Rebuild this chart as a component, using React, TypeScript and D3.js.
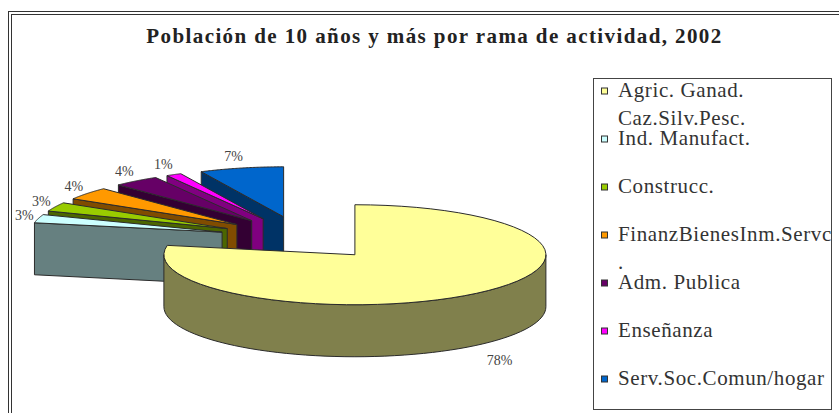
import * as d3 from "d3";

const categories = [
  "Agric. Ganad. Caz.Silv.Pesc.",
  "Ind. Manufact.",
  "Construcc.",
  "FinanzBienesInm.Servc.",
  "Adm. Publica",
  "Enseñanza",
  "Serv.Soc.Comun/hogar",
];
const legendLines = [
  ["Agric. Ganad.", "Caz.Silv.Pesc."],
  ["Ind. Manufact."],
  ["Construcc."],
  ["FinanzBienesInm.Servc", "."],
  ["Adm. Publica"],
  ["Enseñanza"],
  ["Serv.Soc.Comun/hogar"],
];
const shares = [78, 2.7, 2.9, 4.1, 3.9, 1.3, 7.1];
const topColors = ["#FFFF99", "#CCFFFF", "#99CC00", "#FF9900", "#660066", "#FF00FF", "#0066CC"];
const sideColors = ["#80804C", "#668080", "#4C6600", "#804C00", "#330033", "#800080", "#003366"];

const W = 839, H = 413;
const CX = 302, CY = 238;
const RX = 191, RY = 50, DEPTH = 52, EXPLODE = 83;

type Pt = [number, number];

const line = d3.line<Pt>();
const pieGen = d3.pie<number>().sort(null).value(d => d);

// flattened disc: angle 0 at 12 o'clock, clockwise
const onRim = (a: number, c: Pt, dy = 0): Pt => [c[0] + RX * Math.sin(a), c[1] - RY * Math.cos(a) + dy];

const rimPts = (a0: number, a1: number, c: Pt, dy = 0): Pt[] =>
  d3.range(0, 61).map(i => onRim(a0 + ((a1 - a0) * i) / 60, c, dy));

function Slice({ arc, i }: { arc: d3.PieArcDatum<number>; i: number }) {
  const mid = (arc.startAngle + arc.endAngle) / 2;
  const c: Pt = [
    CX + EXPLODE * Math.sin(mid),
    CY - (EXPLODE * RY * Math.cos(mid)) / RX,
  ];
  const top: Pt[] = [c, ...rimPts(arc.startAngle, arc.endAngle, c)];

  // front wall: only the part of the rim between 3 and 9 o'clock shows
  const from = Math.max(arc.startAngle, Math.PI / 2);
  const to = Math.min(arc.endAngle, (3 * Math.PI) / 2);
  const front: Pt[] = from < to
    ? [...rimPts(from, to, c), ...rimPts(to, from, c, DEPTH)]
    : [];

  // radial wall facing the viewer on the small slices
  const s = onRim(arc.startAngle, c);
  const radial: Pt[] = [c, s, [s[0], s[1] + DEPTH], [c[0], c[1] + DEPTH]];
  const showRadial = arc.startAngle > Math.PI;

  const isFront = Math.cos(mid) < 0;
  const lx = isFront
    ? c[0] + (RX + 36) * Math.sin(mid)
    : c[0] + (RX + 13) * Math.sin(mid) - 5 * Math.cos(mid);
  const ly = isFront
    ? c[1] - (RY + 20) * Math.cos(mid) + DEPTH
    : c[1] - (RY + 11) * Math.cos(mid);

  const stroke = "#2b2b2b";
  return (
    <g>
      {showRadial && <path d={line(radial)! + "Z"} fill={sideColors[i]} stroke={stroke} strokeWidth={1} />}
      {front.length > 0 && <path d={line(front)! + "Z"} fill={sideColors[i]} stroke={stroke} strokeWidth={1} />}
      <path d={line(top)! + "Z"} fill={topColors[i]} stroke={stroke} strokeWidth={1} />
      <text x={lx} y={ly + 4} textAnchor="middle" fontSize={14} fill="#444">
        {Math.round(arc.value)}%
      </text>
    </g>
  );
}

export default function App() {
  const arcs = pieGen(shares);
  const legendY = d3.scalePoint<string>()
    .domain(categories)
    .range([91, 379]);

  return (
    <svg
      width={W}
      height={H}
      style={{ position: "absolute", left: 0, top: 0, background: "#fff" }}
      fontFamily="'Liberation Serif', serif"
    >
      <defs>
        <clipPath id="legend-clip">
          <rect x={593} y={78} width={238} height={332} />
        </clipPath>
      </defs>
      {/* chart frame runs off the right and bottom of the picture */}
      <rect x={8.5} y={11.5} width={840} height={410} fill="none" stroke="#333" strokeWidth={1} />
      <rect x={11.5} y={14.5} width={840} height={410} fill="none" stroke="#333" strokeWidth={1} />

      <text x={434.5} y={43} textAnchor="middle" fontSize={21} fontWeight="bold" letterSpacing={1.4} fill="#222">
        Población de 10 años y más por rama de actividad, 2002
      </text>

      {/* far slices first, the big one last */}
      {arcs.map((a, i) => ({ a, i })).reverse().map(({ a, i }) => (
        <Slice key={categories[i]} arc={a} i={i} />
      ))}

      <rect x={593.5} y={78.5} width={238} height={331} fill="#fff" stroke="#444" strokeWidth={1} />
      <g clipPath="url(#legend-clip)">
        {categories.map((cat, i) => {
          const y = legendY(cat)!;
          return (
            <g key={cat}>
              <rect x={601.5} y={y - 3} width={6} height={6} fill={topColors[i]} stroke="#333" strokeWidth={1} />
              {legendLines[i].map((t, j) => (
                <text key={t} x={618} y={y + 6 + j * 28} fontSize={21} letterSpacing={0.6} fill="#333">
                  {t}
                </text>
              ))}
            </g>
          );
        })}
      </g>
    </svg>
  );
}
